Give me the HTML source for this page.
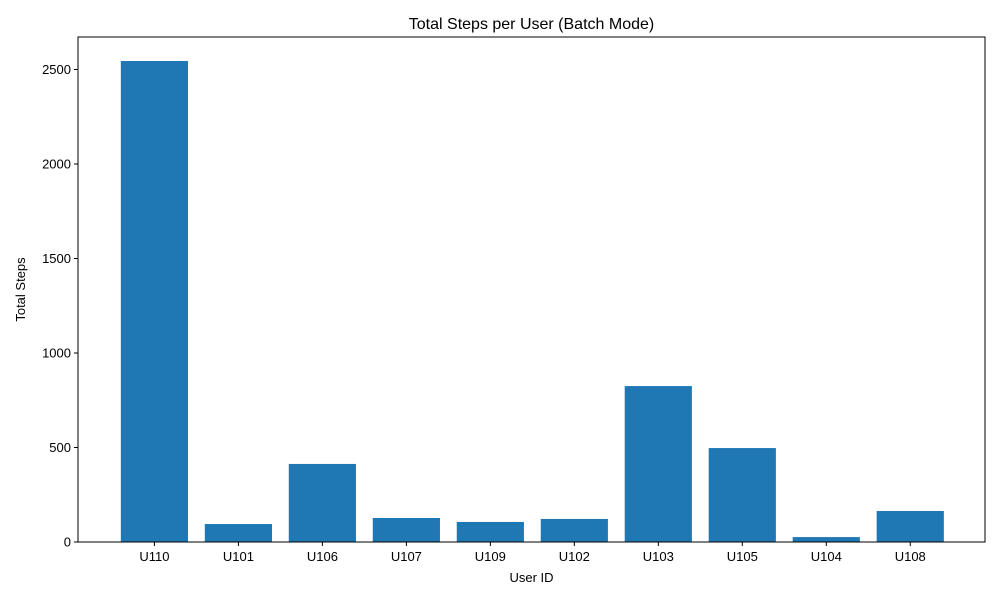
<!DOCTYPE html>
<html><head><meta charset="utf-8"><style>
body{margin:0;background:#fff;font-family:"Liberation Sans","DejaVu Sans",sans-serif}
</style></head><body>
<svg id="chart" width="1000" height="600" xmlns="http://www.w3.org/2000/svg">
<rect width="1000" height="600" fill="#fff"/>
<text x="531.5" y="29" font-size="16" text-anchor="middle">Total Steps per User (Batch Mode)</text>
<g id="bars"></g><g id="xt"></g><g id="yt"></g>
<rect x="78" y="37" width="907" height="505" fill="none" stroke="#000" stroke-width="1"/>
<text x="531.5" y="582" font-size="13" text-anchor="middle">User ID</text>
<text transform="translate(25,289.5) rotate(-90)" font-size="13" text-anchor="middle">Total Steps</text>
</svg>
<script>
const categories=["U110","U101","U106","U107","U109","U102","U103","U105","U104","U108"];
const values=[2545,95,413,127,106,122,825,497,26,164];
const yTicks=[0,500,1000,1500,2000,2500];
const L=78,R=985,T=37,B=542,yMax=2672;
const xMin=-0.91,xMax=categories.length-1+0.89;
const sx=i=>L+(i-xMin)/(xMax-xMin)*(R-L);
const sy=v=>B-v/yMax*(B-T);
const NS="http://www.w3.org/2000/svg";
function mk(t,a,p){const e=document.createElementNS(NS,t);for(const k in a)e.setAttribute(k,a[k]);p.appendChild(e);return e;}
const bw=(sx(0.8)-sx(0));
const gb=document.getElementById('bars'),gx=document.getElementById('xt'),gy=document.getElementById('yt');
categories.forEach((c,i)=>{
 const r=mk('rect',{x:sx(i)-bw/2,y:sy(values[i]),width:bw,height:B-sy(values[i]),fill:'#1f77b4'},gb);
 
 
 const tk=mk('line',{x1:sx(i),x2:sx(i),y1:B,y2:B+4,stroke:'#000'},gx);
 
 
 const t=mk('text',{x:sx(i),y:B+19,'font-size':13,'text-anchor':'middle'},gx);t.textContent=c;
 
 
});
yTicks.forEach(v=>{
 const tk=mk('line',{x1:L-4,x2:L,y1:sy(v),y2:sy(v),stroke:'#000'},gy);
 
 
 const t=mk('text',{x:L-7,y:sy(v)+4.5,'font-size':13,'text-anchor':'end'},gy);t.textContent=v;
 
 
});
</script>
</body></html>
